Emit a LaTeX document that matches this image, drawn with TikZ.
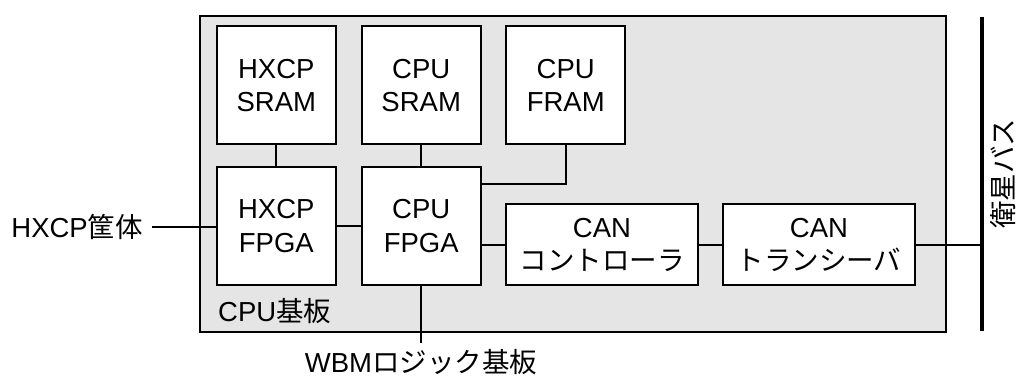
\documentclass[tikz,border=0pt]{standalone}
\usepackage{fontspec}
\setmainfont{Liberation Sans}
\newfontfamily\jp{Noto Sans CJK JP}
\begin{document}
\begin{tikzpicture}[x=1pt,y=-1pt,
  blk/.style={draw=black,line width=1.8pt,fill=white,align=center,font=\fontsize{27.5}{33.3}\selectfont,inner sep=0pt},
  conn/.style={line width=1.8pt},
  lbl/.style={font=\fontsize{27.5}{33.3}\selectfont,inner sep=0pt}]
\useasboundingbox (0,0) rectangle (1018,376);
\node[draw=black,line width=1.8pt,fill=black!10,minimum width=745.7pt,minimum height=316pt,inner sep=0pt] (board) at (572.85,173.7) {};
\node[blk,minimum width=118.7pt,minimum height=118pt] (hsram) at (276.3,85.3) {HXCP\\SRAM};
\node[blk,minimum width=119pt,minimum height=118pt] (csram) at (421.2,85.3) {CPU\\SRAM};
\node[blk,minimum width=118.7pt,minimum height=118pt] (cfram) at (565.7,85.3) {CPU\\FRAM};
\node[blk,minimum width=118.7pt,minimum height=118.6pt] (hfpga) at (276.3,226) {HXCP\\FPGA};
\node[blk,minimum width=119pt,minimum height=118.6pt] (cfpga) at (421.2,226) {CPU\\FPGA};
\node[blk,minimum width=191.4pt,minimum height=81.3pt] (canc) at (602,244.7) {CAN\\{\jp コントローラ}};
\node[blk,minimum width=192pt,minimum height=81.3pt] (cant) at (819,244.7) {CAN\\{\jp トランシーバ}};
\node[lbl,anchor=west] (cpub) at (218,311) {CPU{\jp 基板}};
\node[lbl,anchor=east] (hx) at (143,226.7) {HXCP{\jp 筐体}};
\node[lbl,anchor=base] (wbm) at (421,372) {WBM{\jp ロジック基板}};
\node[lbl,rotate=90] (bus) at (1003,173.5) {\jp 衛星バス};
\coordinate (bt) at (981.7,16.7);
\coordinate (bb) at (981.7,330.7);
\coordinate (wend) at (421.2,343.3);
\coordinate (hend) at (152,226.7);
\draw[line width=4pt] (bt) -- (bb);
\draw[conn] (hsram) -- (hfpga);
\draw[conn] (csram) -- (cfpga);
\draw[conn] (cfram.south) |- (cfpga.east |- 0,183.7);
\draw[conn] (hfpga) -- (cfpga);
\draw[conn] (cfpga.east |- canc.west) -- (canc.west);
\draw[conn] (canc) -- (cant);
\draw[conn] (cant.east) -- (bt |- cant.east);
\draw[conn] (hend) -- (hfpga.west |- hend);
\draw[conn] (cfpga.south) -- (wend);
\end{tikzpicture}
\end{document}
